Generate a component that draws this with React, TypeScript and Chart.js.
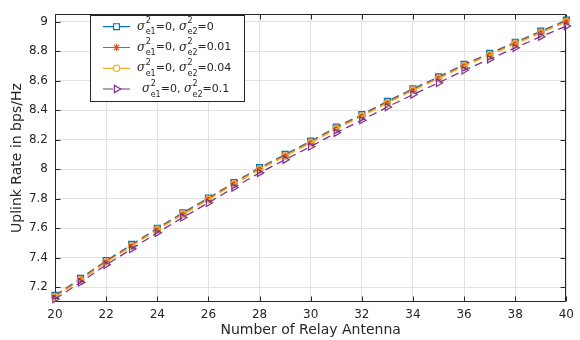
import React, { useEffect, useRef } from 'react';
import { Chart, registerables } from 'chart.js';
import { drawPoint } from 'chart.js/helpers';

Chart.register(...registerables);

// ---------- data ----------
const relayAntennas = [20, 21, 22, 23, 24, 25, 26, 27, 28, 29, 30, 31, 32, 33, 34, 35, 36, 37, 38, 39, 40];
const rateE2_0 = [7.145, 7.26, 7.38, 7.49, 7.6, 7.705, 7.805, 7.91, 8.01, 8.1, 8.19, 8.285, 8.37, 8.46, 8.545, 8.625, 8.71, 8.785, 8.86, 8.935, 9.01];
const rateE2_001 = [7.14, 7.255, 7.375, 7.485, 7.595, 7.7, 7.8, 7.905, 8.005, 8.095, 8.185, 8.28, 8.365, 8.455, 8.54, 8.62, 8.705, 8.78, 8.855, 8.93, 9.005];
const rateE2_004 = [7.133, 7.248, 7.368, 7.478, 7.588, 7.693, 7.793, 7.898, 7.998, 8.088, 8.178, 8.273, 8.358, 8.448, 8.533, 8.613, 8.698, 8.773, 8.848, 8.923, 8.998];
const rateE2_01 = [7.12, 7.233, 7.352, 7.46, 7.569, 7.673, 7.772, 7.876, 7.975, 8.064, 8.153, 8.247, 8.332, 8.421, 8.506, 8.585, 8.67, 8.745, 8.822, 8.898, 8.97];
const e1Values = ['0', '0', '0', '0'];
const e2Values = ['0', '0.01', '0.04', '0.1'];
const xTickValues = [20, 22, 24, 26, 28, 30, 32, 34, 36, 38, 40];
const yTickValues = [7.2, 7.4, 7.6, 7.8, 8, 8.2, 8.4, 8.6, 8.8, 9];
const xTitle = 'Number of Relay Antenna';
const yTitle = 'Uplink Rate in bps/Hz';

const seriesData = [rateE2_0, rateE2_001, rateE2_004, rateE2_01];
const seriesColors = ['#0072BD', '#D95319', '#EDB120', '#7E2F8E'];
const seriesMarkers = ['rect', 'star', 'circle', 'triangle'];
const seriesRotation = [0, 0, 0, 90];
const seriesRadius = [4.2, 3.8, 3.2, 4.2];

const AXIS_COLOR = '#262626';
const FONT = '"DejaVu Sans", "Liberation Sans", Arial, sans-serif';

const matlabPlugin = {
  id: 'matlabDecor',
  beforeDatasetsDraw(chart: any) {
    const { ctx, chartArea } = chart;
    const { left, right, top, bottom } = chartArea;
    const xs = chart.scales.x;
    const ys = chart.scales.y;
    ctx.save();
    ctx.strokeStyle = AXIS_COLOR;
    ctx.lineWidth = 1;
    const L = Math.round(left) + 0.5;
    const R = Math.round(right) - 0.5;
    const T = Math.round(top) + 0.5;
    const B = Math.round(bottom) - 0.5;
    ctx.beginPath();
    ctx.rect(L, T, R - L, B - T);
    const tl = 5;
    xTickValues.forEach((v) => {
      const px = Math.round(xs.getPixelForValue(v)) + 0.5;
      ctx.moveTo(px, B);
      ctx.lineTo(px, B - tl);
      ctx.moveTo(px, T);
      ctx.lineTo(px, T + tl);
    });
    yTickValues.forEach((v) => {
      const py = Math.round(ys.getPixelForValue(v)) + 0.5;
      ctx.moveTo(L, py);
      ctx.lineTo(L + tl, py);
      ctx.moveTo(R, py);
      ctx.lineTo(R - tl, py);
    });
    ctx.stroke();
    ctx.restore();
  },
  afterDraw(chart: any) {
    const { ctx, chartArea } = chart;
    ctx.save();
    // axis titles
    ctx.fillStyle = AXIS_COLOR;
    ctx.textAlign = 'center';
    ctx.textBaseline = 'middle';
    ctx.font = `14px ${FONT}`;
    ctx.fillText(xTitle, (chartArea.left + chartArea.right) / 2, 330);
    ctx.save();
    ctx.translate(17, (chartArea.top + chartArea.bottom) / 2);
    ctx.rotate(-Math.PI / 2);
    ctx.font = `14px ${FONT}`;
    ctx.fillText(yTitle, 0, 0);
    ctx.restore();

    // legend
    const bx = 90.5, by = 15.5, bw = 154, bh = 86;
    ctx.fillStyle = '#ffffff';
    ctx.fillRect(bx, by, bw, bh);
    ctx.strokeStyle = AXIS_COLOR;
    ctx.lineWidth = 1;
    ctx.strokeRect(bx, by, bw, bh);
    const rowY = [26.7, 47.5, 68.3, 89];
    for (let i = 0; i < 4; i++) {
      const y = rowY[i];
      const color = seriesColors[i];
      ctx.strokeStyle = color;
      ctx.lineWidth = 1.2;
      ctx.setLineDash([]);
      ctx.beginPath();
      ctx.moveTo(103, y);
      ctx.lineTo(113, y);
      ctx.moveTo(120, y);
      ctx.lineTo(130, y);
      ctx.stroke();
      ctx.fillStyle = 'rgba(0,0,0,0)';
      drawPoint(ctx, { pointStyle: seriesMarkers[i], rotation: seriesRotation[i], radius: seriesRadius[i], borderWidth: 1.2 } as any, 116.5, y);

      // text
      ctx.fillStyle = AXIS_COLOR;
      ctx.textAlign = 'left';
      ctx.textBaseline = 'middle';
      let cx = i === 3 ? 142 : 137;
      const drawSigma = (sub: string, val: string, trailing: string) => {
        ctx.font = `italic 12px "DejaVu Serif", serif`;
        ctx.fillText('σ', cx, y);
        cx += ctx.measureText('σ').width + 0.5;
        ctx.font = `8px ${FONT}`;
        ctx.fillText('2', cx, y - 5.5);
        ctx.fillText(sub, cx, y + 5.5);
        cx += Math.max(ctx.measureText('2').width, ctx.measureText(sub).width);
        ctx.font = `11px ${FONT}`;
        const t = '=' + val + trailing;
        ctx.fillText(t, cx, y);
        cx += ctx.measureText(t).width;
      };
      drawSigma('e1', e1Values[i], ', ');
      drawSigma('e2', e2Values[i], '');
    }
    ctx.restore();
  },
};

export default function App() {
  const canvasRef = useRef<HTMLCanvasElement | null>(null);

  useEffect(() => {
    const canvas = canvasRef.current;
    if (!canvas) return;
    const datasets = seriesData.map((arr, i) => ({
      label: `σ²e1=${e1Values[i]}, σ²e2=${e2Values[i]}`,
      data: relayAntennas.map((x, j) => ({ x, y: arr[j] })),
      order: seriesData.length - i,
      borderColor: seriesColors[i],
      backgroundColor: 'rgba(0,0,0,0)',
      borderWidth: 1.3,
      borderDash: [8, 5],
      pointStyle: seriesMarkers[i],
      pointRotation: seriesRotation[i],
      pointRadius: seriesRadius[i],
      pointBorderWidth: 1.2,
      pointBorderColor: seriesColors[i],
      pointBackgroundColor: 'rgba(0,0,0,0)',
      tension: 0,
      fill: false,
      clip: false as any,
    }));
    const chart = new Chart(canvas, {
      type: 'line',
      data: { datasets },
      plugins: [matlabPlugin],
      options: {
        animation: false,
        responsive: false,
        devicePixelRatio: 1,
        layout: { padding: { top: 3, right: 5, left: 0, bottom: 0 } },
        plugins: { legend: { display: false }, tooltip: { enabled: false } },
        scales: {
          x: {
            type: 'linear',
            min: 20,
            max: 40,
            afterFit: (s: any) => { s.height = 38; },
            afterBuildTicks: (s: any) => { s.ticks = xTickValues.map((v) => ({ value: v })); },
            grid: { color: '#e2e2e2', drawTicks: false, lineWidth: 1 },
            border: { display: false },
            ticks: {
              color: AXIS_COLOR,
              font: { family: FONT, size: 12 },
              padding: 6,
              maxRotation: 0,
              autoSkip: false,
              callback: (v: any) => String(v),
            },
          },
          y: {
            type: 'linear',
            min: 7.1,
            max: 9.05,
            afterFit: (s: any) => { s.width = 55; },
            afterBuildTicks: (s: any) => { s.ticks = yTickValues.map((v) => ({ value: v })); },
            grid: { color: '#e2e2e2', drawTicks: false, lineWidth: 1 },
            border: { display: false },
            ticks: {
              color: AXIS_COLOR,
              font: { family: FONT, size: 12 },
              padding: 7,
              autoSkip: false,
              callback: (v: any) => String(Number(Number(v).toFixed(1))),
            },
          },
        },
      } as any,
    });
    return () => chart.destroy();
  }, []);

  return (
    <div style={{ position: 'fixed', left: 0, top: 0, width: 580, height: 340, background: '#fff' }}>
      <canvas ref={canvasRef} width={580} height={340} style={{ display: 'block', width: 580, height: 340 }} />
    </div>
  );
}
